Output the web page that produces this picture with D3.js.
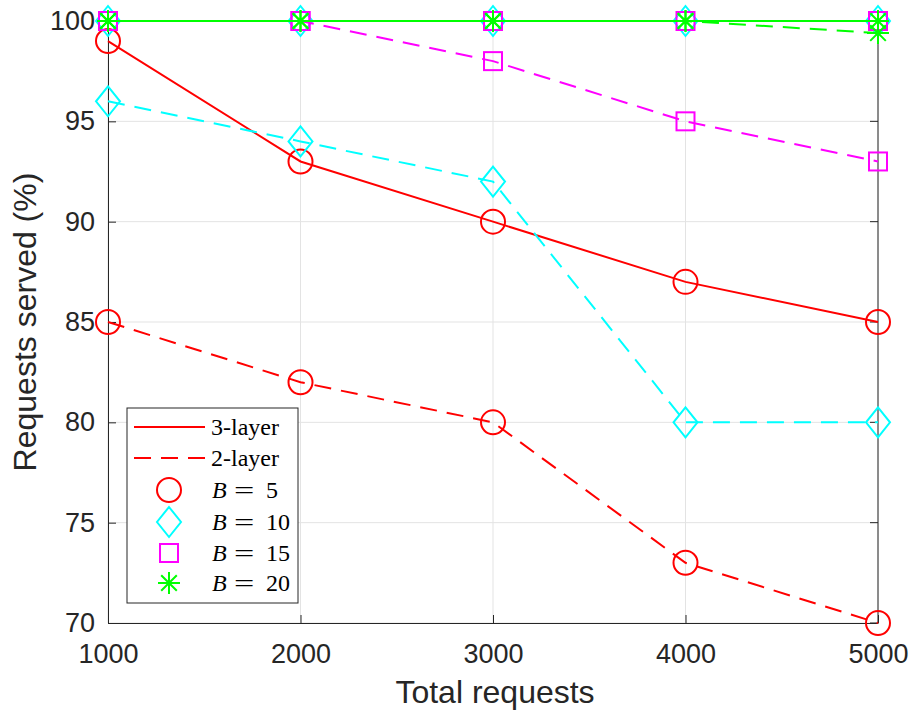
<!DOCTYPE html>
<html>
<head>
<meta charset="utf-8">
<script src="https://cdn.jsdelivr.net/npm/d3@7"></script>
<style>
body { margin: 0; background: #fff; }
text { font-family: "Liberation Sans", Arial, sans-serif; }
</style>
</head>
<body>
<div id="chart"></div>
<script>
// data
var requests = [1000, 2000, 3000, 4000, 5000];
var bValues = [5, 10, 15, 20];
var colors = ["#ff0000", "#00ffff", "#ff00ff", "#00ff00"];
var markers = ["circle", "diamond", "square", "asterisk"];
var layer3 = [
	[99, 93, 90, 87, 85],
	[100, 100, 100, 100, 100],
	[100, 100, 100, 100, 100],
	[100, 100, 100, 100, 100]
];
var layer2 = [
	[85, 82, 80, 73, 70],
	[96, 94, 92, 80, 80],
	[100, 100, 98, 95, 93],
	[100, 100, 100, 100, 99.4]
];
var yTicks = [70, 75, 80, 85, 90, 95, 100];
var legendLines = ["3-layer", "2-layer"];

var width = 913, height = 716;
var margin = {left: 108, right: 35, top: 21, bottom: 93};
var dash = "17,10";

var svg = d3.select("#chart").append("svg")
	.attr("width", width)
	.attr("height", height);

var x = d3.scaleLinear().domain([1000, 5000]).range([margin.left, width - margin.right]);
var y = d3.scaleLinear().domain([70, 100]).range([height - margin.bottom, margin.top]);

var g = svg.append("g");

// grid
g.selectAll("line.gx").data(requests).enter().append("line")
	.attr("x1", function(d){ return x(d); }).attr("x2", function(d){ return x(d); })
	.attr("y1", y(70)).attr("y2", y(100))
	.attr("stroke", "#e3e3e3").attr("stroke-width", 1);
g.selectAll("line.gy").data(yTicks).enter().append("line")
	.attr("x1", x(1000)).attr("x2", x(5000))
	.attr("y1", function(d){ return y(d); }).attr("y2", function(d){ return y(d); })
	.attr("stroke", "#e3e3e3").attr("stroke-width", 1);

// axes, MATLAB style box with inward ticks
var xAxis = d3.axisBottom(x).tickValues(requests).tickSizeInner(-8).tickSizeOuter(0).tickPadding(21).tickFormat(d3.format("d"));
var yAxis = d3.axisLeft(y).tickValues(yTicks).tickSizeInner(-8).tickSizeOuter(0).tickPadding(13);
var gx = g.append("g").attr("transform", "translate(0," + y(70) + ")").call(xAxis);
var gy = g.append("g").attr("transform", "translate(" + x(1000) + ",0)").call(yAxis);
[gx, gy].forEach(function(a)
{
	a.selectAll("path, line").attr("stroke", "#262626");
	a.selectAll("text").attr("fill", "#262626").style("font-size", "27px");
});
g.append("line").attr("x1", x(1000)).attr("x2", x(5000)).attr("y1", y(100)).attr("y2", y(100)).attr("stroke", "#262626");
g.append("line").attr("x1", x(5000)).attr("x2", x(5000)).attr("y1", y(100)).attr("y2", y(70)).attr("stroke", "#262626");
// right/top inward ticks
g.selectAll("line.tt").data(requests).enter().append("line")
	.attr("x1", function(d){ return x(d); }).attr("x2", function(d){ return x(d); })
	.attr("y1", y(100)).attr("y2", y(100) + 8).attr("stroke", "#262626");
g.selectAll("line.rt").data(yTicks).enter().append("line")
	.attr("x1", x(5000)).attr("x2", x(5000) - 8)
	.attr("y1", function(d){ return y(d); }).attr("y2", function(d){ return y(d); }).attr("stroke", "#262626");

// labels
svg.append("text").attr("x", (x(1000) + x(5000)) / 2 + 2).attr("y", 703)
	.attr("text-anchor", "middle").style("font-size", "32px").attr("fill", "#262626")
	.text("Total requests");
svg.append("text").attr("transform", "translate(36," + ((y(70) + y(100)) / 2) + ") rotate(-90)")
	.attr("text-anchor", "middle").style("font-size", "32px").attr("fill", "#262626")
	.text("Requests served (%)");

function drawMarker(sel, type, color)
{
	if(type == "circle")
		sel.append("circle").attr("r", 12).attr("fill", "none").attr("stroke", color).attr("stroke-width", 2);
	else if(type == "diamond")
		sel.append("path").attr("d", "M0,-15L12,0L0,15L-12,0Z").attr("fill", "none").attr("stroke", color).attr("stroke-width", 2);
	else if(type == "square")
		sel.append("rect").attr("x", -9).attr("y", -9).attr("width", 18).attr("height", 18)
			.attr("fill", "none").attr("stroke", color).attr("stroke-width", 2);
	else
	{
		var r = 11, s = 7.8;
		sel.append("path")
			.attr("d", "M0," + (-r) + "V" + r + "M" + (-r) + ",0H" + r +
				"M" + (-s) + "," + (-s) + "L" + s + "," + s + "M" + (-s) + "," + s + "L" + s + "," + (-s))
			.attr("fill", "none").attr("stroke", color).attr("stroke-width", 2);
	}
}

var line = d3.line().x(function(d, i){ return x(requests[i]); }).y(function(d){ return y(d); });

for(var i = 0; i < bValues.length; i++)
{
	var sets = [[layer3[i], null], [layer2[i], dash]];
	for(var k = 0; k < sets.length; k++)
	{
		var p = g.append("path").datum(sets[k][0]).attr("d", line)
			.attr("fill", "none").attr("stroke", colors[i]).attr("stroke-width", 2);
		if(sets[k][1]) p.attr("stroke-dasharray", sets[k][1]);
		sets[k][0].forEach(function(v, j)
		{
			var m = g.append("g").attr("transform", "translate(" + x(requests[j]) + "," + y(v) + ")");
			drawMarker(m, markers[i], colors[i]);
		});
	}
}

// legend
var lg = svg.append("g").attr("transform", "translate(127,408)");
lg.append("rect").attr("width", 171).attr("height", 195).attr("fill", "#fff").attr("stroke", "#262626").attr("stroke-width", 1);
var rowY = [19, 50, 82, 114, 145, 175];
var serif = "'Liberation Serif', 'DejaVu Serif', serif";
legendLines.forEach(function(name, k)
{
	var l = lg.append("line").attr("x1", 7).attr("x2", 78).attr("y1", rowY[k]).attr("y2", rowY[k])
		.attr("stroke", colors[0]).attr("stroke-width", 2);
	if(k == 1) l.attr("stroke-dasharray", dash);
	lg.append("text").attr("x", 84).attr("y", rowY[k] + 8).style("font-family", serif).style("font-size", "24px").text(name);
});
bValues.forEach(function(b, i)
{
	var m = lg.append("g").attr("transform", "translate(42," + rowY[i + 2] + ")");
	drawMarker(m, markers[i], colors[i]);
	var ty = rowY[i + 2] + 8;
	lg.append("text").attr("x", 85).attr("y", ty).style("font-family", serif).style("font-size", "24px")
		.style("font-style", "italic").text("B");
	// wide equals sign like LaTeX
	lg.append("text").attr("x", 107).attr("y", ty).attr("transform", "translate(107," + ty + ") scale(1.5,1) translate(-107," + (-ty) + ")")
		.style("font-family", serif).style("font-size", "24px").text("=");
	lg.append("text").attr("x", 139).attr("y", ty).style("font-family", serif).style("font-size", "24px").text(b);
});
</script>
</body>
</html>
